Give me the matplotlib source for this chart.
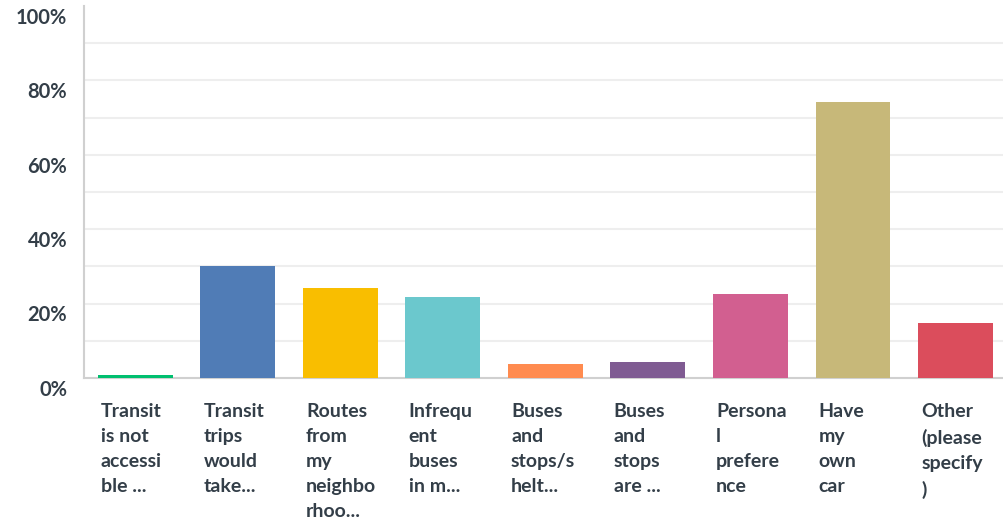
import matplotlib.pyplot as plt
import matplotlib.transforms as mtransforms

categories = [
    "Transit\nis not\naccessi\nble ...",
    "Transit\ntrips\nwould\ntake...",
    "Routes\nfrom\nmy\nneighbo\nrhoo...",
    "Infrequ\nent\nbuses\nin m...",
    "Buses\nand\nstops/s\nhelt...",
    "Buses\nand\nstops\nare ...",
    "Persona\nl\nprefere\nnce",
    "Have\nmy\nown\ncar",
    "Other\n(please\nspecify\n)",
]
values = [0.8, 30.1, 24.2, 21.8, 3.8, 4.3, 22.6, 74.2, 14.8]
colors = ["#00BF6F", "#507CB6", "#F9BE00", "#6BC8CD", "#FF8B4F",
          "#7F5B92", "#D25F90", "#C7B879", "#DB4D5C"]
ytick_values = [0, 20, 40, 60, 80, 100]
ytick_labels = ["0%", "20%", "40%", "60%", "80%", "100%"]

text_color = "#333E48"
plt.rcParams["font.family"] = ["Lato", "DejaVu Sans"]

fig = plt.figure(figsize=(10.04, 5.25), dpi=100)
ax = fig.add_axes([0.0837, 0.28, 0.919, 0.7086])

bar_width = 0.73
positions = list(range(len(values)))
ax.bar(positions, values, width=bar_width, color=colors, zorder=3)

ax.set_xlim(-0.5, len(values) - 0.5)
ax.set_ylim(0, 100)

# light gridlines every 10%
for y in range(10, 100, 10):
    ax.axhline(y, color="#EEEEEE", linewidth=1.5, zorder=1)

ax.set_yticks(ytick_values)
ax.set_yticklabels(ytick_labels, fontsize=14.5, fontweight="bold", color=text_color)
ax.tick_params(axis="y", length=0, pad=12)
offset = mtransforms.ScaledTranslation(0, -7 / 72, fig.dpi_scale_trans)
for lbl in ax.get_yticklabels():
    lbl.set_transform(lbl.get_transform() + offset)

ax.set_xticks([])
for i, label in enumerate(categories):
    ax.text(i - bar_width / 2 + 0.03, -0.067, label,
            transform=ax.get_xaxis_transform(), ha="left", va="top",
            fontsize=14, fontweight="bold", color=text_color,
            linespacing=1.58)

for side in ["top", "right"]:
    ax.spines[side].set_visible(False)
ax.spines["left"].set_color("#D0D0D0")
ax.spines["left"].set_linewidth(1.5)
ax.spines["bottom"].set_color("#D0D0D0")
ax.spines["bottom"].set_linewidth(1.5)

fig.savefig("out.png", dpi=100)
